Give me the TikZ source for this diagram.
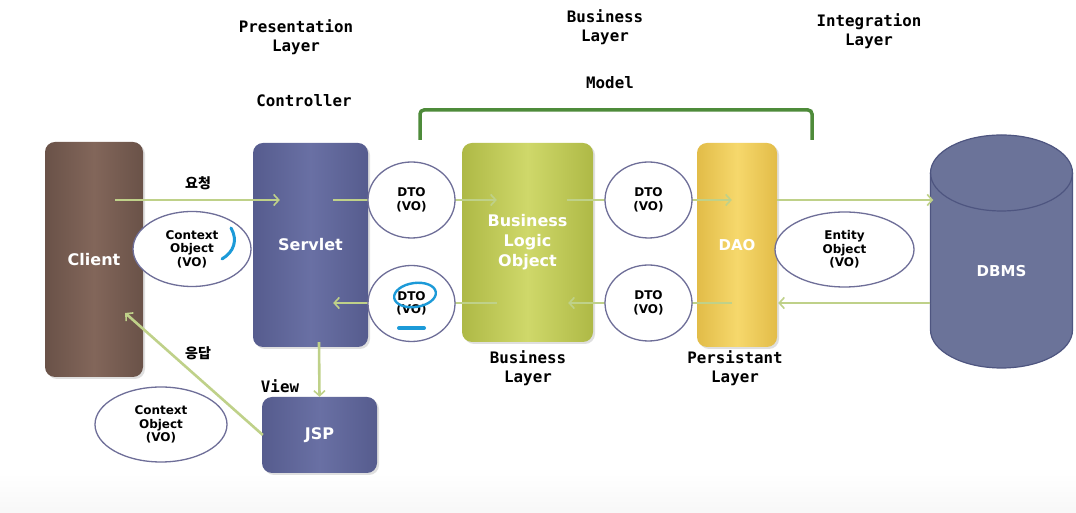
\documentclass[tikz,border=0pt]{standalone}
\usepackage{fontspec}
\setmainfont{DejaVu Sans}
\newfontfamily\monof{DejaVu Sans Mono}
\newfontfamily\kr{Noto Sans CJK KR}
\usetikzlibrary{arrows.meta,calc,shadows,shapes.geometric}
\definecolor{clientD}{HTML}{6A5248}
\definecolor{clientL}{HTML}{82665A}
\definecolor{servD}{HTML}{565C8E}
\definecolor{servL}{HTML}{6970A4}
\definecolor{bloD}{HTML}{AEB946}
\definecolor{bloL}{HTML}{CFD86A}
\definecolor{daoD}{HTML}{E2BC48}
\definecolor{daoL}{HTML}{F6D86C}
\definecolor{dbmsF}{HTML}{6B7399}
\definecolor{dbmsE}{HTML}{4E5580}
\definecolor{arrc}{HTML}{BFD189}
\definecolor{ellc}{HTML}{6E6E98}
\definecolor{brk}{HTML}{4E8B3A}
\definecolor{annoc}{HTML}{1C9AD8}
\begin{document}
\begin{tikzpicture}[x=1pt,y=1pt,
  box/.style={rectangle, rounded corners=10pt, inner sep=0pt, text=white,
    font=\bfseries\fontsize{16}{20}\selectfont, align=center,
    drop shadow={opacity=0.25,shadow xshift=2pt,shadow yshift=-2pt}},
  vo/.style={ellipse, draw=ellc, line width=1.3pt, fill=white, inner sep=0pt,
    align=center, font=\bfseries\fontsize{12}{13.5}\selectfont},
  arr/.style={draw=arrc, line width=2.6pt,
    -{Straight Barb[length=5pt,width=11pt,line width=1.6pt]}},
  lab/.style={font=\monof\bfseries\fontsize{15.8}{19}\selectfont, align=center, inner sep=0pt},
  kor/.style={font=\kr\bfseries\fontsize{14}{16}\selectfont, inner sep=0pt},
  anno/.style={draw=annoc, line width=3pt, line cap=round},
]
\useasboundingbox (0,0) rectangle (1076,513);
\fill[white] (0,0) rectangle (1076,513);
\shade[top color=white, bottom color=black!3] (0,0) rectangle (1076,40);

% boxes
\node[box, minimum width=98, minimum height=235, left color=clientD, right color=clientD, middle color=clientL] (client) at (94,253.5) {Client};
\node[box, minimum width=115, minimum height=204, left color=servD, right color=servD, middle color=servL] (servlet) at (310.5,268) {Servlet};
\node[box, minimum width=115, minimum height=76, left color=servD, right color=servD, middle color=servL] (jsp) at (319.5,78) {JSP};
\node[box, minimum width=131, minimum height=199, left color=bloD, right color=bloD, middle color=bloL] (blo) at (527.5,270.5) {Business\\Logic\\Object};
\node[box, minimum width=80, minimum height=204, left color=daoD, right color=daoD, middle color=daoL, font=\bfseries\fontsize{15}{18}\selectfont] (dao) at (737,268) {DAO};

% DBMS cylinder
\node[minimum width=142, minimum height=233, inner sep=0pt] (dbms) at (1001.5,261.5) {};
\draw[dbmsE, line width=1.2pt, fill=dbmsF]
  (930.5,340) -- (930.5,183) arc[start angle=180, end angle=360, x radius=71, y radius=38]
  -- (1072.5,340) arc[start angle=0, end angle=180, x radius=71, y radius=38] -- cycle;
\draw[dbmsE, line width=1.2pt] (930.5,340) arc[start angle=180, end angle=360, x radius=71, y radius=38];
\node[text=white, font=\bfseries\fontsize{15}{18}\selectfont, inner sep=0pt] (dbmslabel) at ($(dbms.center)+(0,-20)$) {DBMS};

% connectors
\draw[arr] ($(client.east)+(-28,59.5)$) -- ($(servlet.west)+(27,45)$);
\draw[arr] ($(servlet.east)+(-35,45)$) -- ($(blo.west)+(35,42.5)$);
\draw[arr] ($(blo.east)+(-26,42.5)$) -- ($(dao.west)+(35,45)$);
\draw[arr] ($(dao.east)+(0,45)$) -- ($(dbms.west)+(3,51.5)$);
\draw[arr] ($(dbms.west)+(0,-51.5)$) -- ($(dao.east)+(1,-58)$);
\draw[arr] ($(dao.west)+(35,-58)$) -- ($(blo.east)+(-25,-60.5)$);
\draw[arr] ($(blo.west)+(35,-60.5)$) -- ($(servlet.east)+(-35,-58)$);
\draw[arr] ($(servlet.south)+(8.5,5)$) -- (jsp.north);
\draw[arr] ($(jsp.west)+(1,0)$) -- ($(client.east)+(-18,-53.5)$);

% ellipses
\node[vo, minimum width=118, minimum height=75] (ctxA) at (192,264) {Context\\Object\\(VO)};
\node[vo, minimum width=132, minimum height=75] (ctxB) at (161,88.5) {Context\\Object\\(VO)};
\node[vo, minimum width=87, minimum height=76] (dtoA) at (411.5,313) {DTO\\(VO)};
\node[vo, minimum width=87, minimum height=76] (dtoB) at (411.5,209.5) {DTO\\(VO)};
\node[vo, minimum width=87, minimum height=76] (dtoC) at (648.5,313) {DTO\\(VO)};
\node[vo, minimum width=87, minimum height=76] (dtoD) at (648.5,210) {DTO\\(VO)};
\node[vo, minimum width=139, minimum height=75] (ent) at (844.5,263.5) {Entity\\Object\\(VO)};

% labels
\node[kor] (req) at (198,330) {요청};
\node[kor] (resp) at (198,160) {응답};
\node[lab] (view) at (280,127) {View};
\node[lab] (pres) at (296,475.5) {Presentation\\Layer};
\node[lab] (ctrl) at (304,412) {Controller};
\node[lab] (busT) at (605,485.5) {Business\\Layer};
\node[lab] (model) at (610,430) {Model};
\node[lab] (integ) at (869,482) {Integration\\Layer};
\node[lab] (busB) at (528,145) {Business\\Layer};
\node[lab] (pers) at (735,145) {Persistant\\Layer};

% model bracket
\draw[brk, line width=3.5pt, rounded corners=4pt] (420,373) -- (420,403) -- (812,403) -- (812,373);

% blue hand annotations
\draw[anno] (231,285) .. controls (238,273) and (234,261) .. (222,254);
\draw[anno, line width=2.4pt, rotate around={8:(415,218)}] (415,218) ellipse [x radius=21, y radius=12];
\draw[anno, line width=4pt] (399,185) -- (424,185);
\end{tikzpicture}
\end{document}
